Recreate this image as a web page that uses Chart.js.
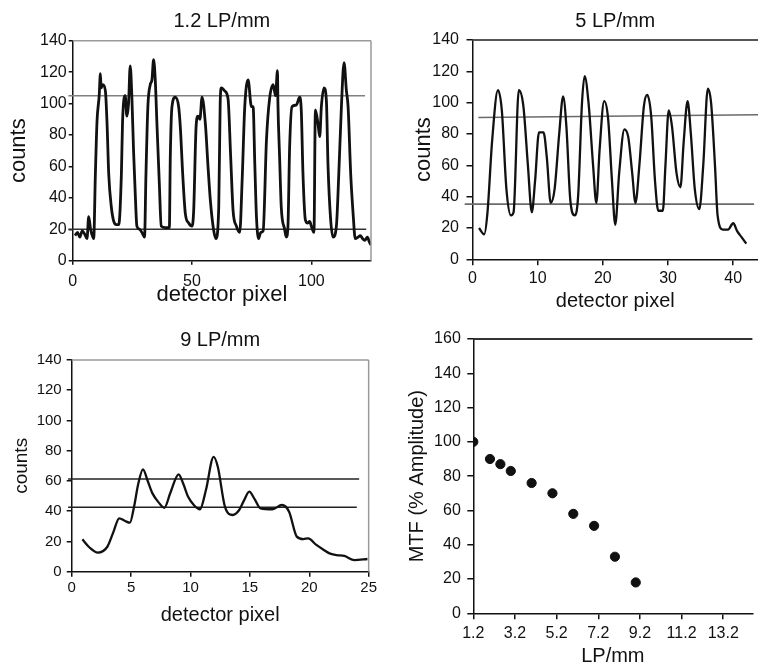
<!DOCTYPE html>
<html>
<head>
<meta charset="utf-8">
<title>Line pair profiles and MTF</title>
<script src="https://cdn.jsdelivr.net/npm/chart.js@4.4.1/dist/chart.umd.min.js"></script>
<style>
  body { margin: 0; background: #fff; overflow: hidden; }
  #wrap { position: relative; width: 758px; height: 671px; overflow: hidden; }
  .panel { position: absolute; }
</style>
</head>
<body>
<div id="wrap">
  <div class="panel" style="left:0;top:0;width:379px;height:320px"><canvas id="lp12"></canvas></div>
  <div class="panel" style="left:379px;top:0;width:379px;height:320px"><canvas id="lp5"></canvas></div>
  <div class="panel" style="left:0;top:320px;width:379px;height:351px"><canvas id="lp9"></canvas></div>
  <div class="panel" style="left:379px;top:320px;width:379px;height:351px"><canvas id="mtf"></canvas></div>
</div>
<script>
// ---------- data ----------

// 1.2 LP/mm profile
const p1Pixel = [
  1, 2, 3, 4, 5, 6, 6.7, 7.5, 8.8, 9.5, 10.2, 11.1, 11.6, 11.9, 12.6, 13.7,
  14.4, 15.1, 16.2, 17.2, 18.3, 19.3, 20.4, 20.9, 22, 22.7, 23.4, 24.1, 24.8,
  25.5, 26.2, 26.9, 28, 29, 30.1, 30.7, 31.5, 32.5, 33.2, 33.9, 34.6, 35.3,
  36.3, 37.1, 38.8, 40.5, 40.9, 41.6, 43, 44.4, 45.1, 46.1, 47.2, 48.6, 50,
  50.7, 51.7, 52.5, 53.3, 54.2, 55.6, 56.7, 57.7, 59, 60, 61.2, 61.8, 62.3,
  63.7, 65.1, 66.2, 67.2, 68.6, 70, 71, 72.1, 73.5, 74.9, 75.6, 76.3, 77,
  77.9, 78.8, 79.8, 81.2, 82.5, 84, 85, 85.8, 86, 86.7, 87.4, 88.8, 89.5,
  90.2, 90.9, 91.9, 93.7, 95.1, 95.8, 96.5, 97.5, 98.5, 99.3, 100, 101.1,
  101.7, 102.8, 103.5, 104.2, 105.3, 106.3, 107, 108.1, 109.1, 110.5, 111.5,
  112.6, 113.7, 114.7, 115.4, 116.5, 117.5, 118.4, 119.6, 120.5, 121.5,
  122.4, 123.5, 124.3, 125
];
const p1Counts = [
  16, 18, 15, 19, 17, 14, 28, 20, 14, 55, 89, 105, 119, 110, 112, 108,
  87, 55, 34, 25, 23, 23, 55, 89, 105, 92, 100, 124, 104,
  70, 43, 22, 20, 18, 15, 55, 98, 112, 115, 128, 115, 87,
  49, 22, 21, 21, 66, 98, 104, 98, 85, 55, 30, 24, 22,
  32, 85, 92, 90, 104, 87, 60, 38, 20, 14, 34, 100, 110,
  108, 103, 66, 32, 22, 18, 51, 98, 115, 98, 98, 62, 28,
  14, 18, 19, 77, 103, 112, 105, 121, 100, 66, 34, 20, 15,
  22, 72, 98, 99, 104, 95, 55, 26, 24, 25, 22, 18,
  96, 87, 79, 98, 110, 102, 60, 26, 15, 22, 55,
  98, 126, 108, 98, 55, 30, 14, 15, 16, 14,
  13, 15, 12, 10
];
const p1Levels = [105, 20];
const p1LevelFrom = [-1.8, -1.8];
const p1LevelTo = [122.5, 123];

// 5 LP/mm profile
const p2Pixel = [
  1, 1.8, 2.3, 3, 3.9, 4.5, 5.2, 5.9, 6.3, 7.1, 7.8, 8.5, 9.1, 9.6, 10.2, 10.9,
  11.4, 12, 12.6, 13.3, 13.9, 14.4, 15, 15.7, 16.2, 16.8, 17.2, 17.8, 18.5, 19,
  19.5, 20.2, 20.8, 21.4, 21.9, 22.5, 23.3, 23.9, 24.5, 25, 25.6, 26.3, 26.8,
  27.4, 28, 28.5, 29.2, 29.6, 30.1, 30.6, 31.3, 31.9, 32.4, 33, 33.5, 34.1,
  34.8, 35.4, 36.1, 36.6, 37.2, 37.6, 38.4, 39.2, 40, 40.6, 41.3, 42
];
const p2Counts = [
  20, 16, 30, 75, 108, 95, 45, 28, 30, 108, 98, 60, 30, 50, 81, 81,
  65, 36, 45, 80, 104, 85, 38, 28, 40, 100, 117, 100, 60, 36,
  70, 101, 90, 50, 22, 55, 83, 78, 55, 36, 60, 98, 105,
  92, 50, 31, 31, 60, 95, 85, 55, 46, 75, 101, 80, 45,
  32, 60, 109, 100, 60, 28, 19, 19, 23, 18, 14, 10
];
const p2Levels = [[90.5, 92.3], [35.2, 35.2]];
const p2LevelFrom = [0.9, -1.2];
const p2LevelTo = [43.8, 43.2];

// 9 LP/mm profile
const p3Pixel = [
  0.9, 1.5, 2.2, 3, 3.5, 4, 4.5, 4.9, 5.25, 5.6, 6, 6.4, 6.8, 7.3, 7.8, 8.3,
  9, 9.4, 9.8, 10.3, 10.8, 11.3, 11.95, 12.3, 12.9, 13.55, 14.1, 14.5, 14.95,
  15.4, 15.9, 16.9, 17.7, 18.3, 18.95, 19.5, 19.9, 20.6, 21.2, 21.7, 22.3,
  22.95, 23.8, 24.9
];
const p3Counts = [
  21.4, 16, 12.6, 16.5, 26, 35.3, 33.5, 32.4, 43, 58, 67.7, 60, 51.8, 46, 42.3, 52,
  64.4, 58, 49.6, 44, 41.3, 54, 76, 69.4, 43, 37.5, 40.8, 47, 52.9,
  48, 41.9, 41.3, 44.1, 39.7, 23.2, 21.6, 22, 17.7, 14.5, 12.1, 11,
  10.4, 7.7, 8.4
];
const p3Levels = [61.3, 42.6];
const p3LevelFrom = [-0.3, -0.3];
const p3LevelTo = [24.2, 24];

// MTF vs spatial frequency
const mtfLp = [1.2, 2, 2.5, 3, 4, 5, 6, 7, 8, 9];
const mtfAmp = [100, 90, 87, 83, 76, 70, 58, 51, 33, 18];

// tick labels
const p1XTicks = [0, 50, 100];
const p2XTicks = [0, 10, 20, 30, 40];
const p3XTicks = [0, 5, 10, 15, 20, 25];
const countTicks = [0, 20, 40, 60, 80, 100, 120, 140];
const mtfXTicks = [1.2, 3.2, 5.2, 7.2, 9.2, 11.2, 13.2];
const mtfYTicks = [0, 20, 40, 60, 80, 100, 120, 140, 160];

// ---------- helpers ----------

const FONT = "'Liberation Sans', Arial, sans-serif";
const INK = '#111';
Chart.defaults.font.family = FONT;
Chart.defaults.color = INK;

// top / right frame lines around the plot area
const frame = {
  id: 'frame',
  afterDraw(chart, args, opts) {
    const { ctx, chartArea: a } = chart;
    ctx.save();
    ctx.lineWidth = opts.width || 1.5;
    if (opts.top) {
      ctx.strokeStyle = opts.top;
      ctx.beginPath(); ctx.moveTo(a.left, a.top); ctx.lineTo(a.right, a.top); ctx.stroke();
    }
    if (opts.right) {
      ctx.strokeStyle = opts.right;
      ctx.beginPath(); ctx.moveTo(a.right, a.top); ctx.lineTo(a.right, a.bottom); ctx.stroke();
    }
    ctx.restore();
  }
};

function axis(o) {
  return {
    type: 'linear',
    min: o.min,
    max: o.max,
    afterFit: s => { if (s.isHorizontal()) s.height = o.size; else s.width = o.size; },
    afterBuildTicks: s => { s.ticks = o.ticks.map(v => ({ value: v })); },
    grid: { drawOnChartArea: false, drawTicks: true, tickLength: o.tickLen, color: INK, lineWidth: 1.5 },
    border: { display: true, color: INK, width: 1.5 },
    ticks: {
      color: INK, padding: o.pad, autoSkip: false, maxRotation: 0,
      font: { size: o.tickSize || 16 },
      callback: v => String(v)
    },
    title: {
      display: true, text: o.title, color: INK,
      font: { size: o.titleSize },
      padding: o.titlePad
    }
  };
}

function levelSets(levels, from, to, colors) {
  return levels.map((lv, i) => {
    const ys = Array.isArray(lv) ? lv : [lv, lv];
    return {
      data: [{ x: from[i], y: ys[0] }, { x: to[i], y: ys[1] }],
      borderColor: colors[i],
      borderWidth: 1.6,
      pointRadius: 0,
      clip: false
    };
  });
}

function profile(id, o) {
  return new Chart(document.getElementById(id), {
    type: 'line',
    data: {
      datasets: [
        {
          data: o.x.map((x, i) => ({ x, y: o.y[i] })),
          borderColor: INK,
          borderWidth: o.lineWidth || 2.3,
          pointRadius: 0,
          cubicInterpolationMode: 'monotone'
        },
        ...o.levels
      ]
    },
    options: {
      animation: false,
      responsive: true,
      maintainAspectRatio: false,
      layout: { padding: o.padding },
      plugins: {
        legend: { display: false },
        tooltip: { enabled: false },
        title: {
          display: true, text: o.title, color: INK, fullSize: false,
          font: { size: 20, weight: 'normal' },
          padding: o.titlePad
        },
        frame: o.frame
      },
      scales: { x: o.xAxis, y: o.yAxis }
    },
    plugins: [frame]
  });
}

// ---------- charts ----------

profile('lp12', {
  title: '1.2 LP/mm',
  lineWidth: 2.8,
  titlePad: { top: 9.7, bottom: 7 },
  padding: { left: 0, right: 8, top: 0, bottom: 11.8 },
  x: p1Pixel,
  y: p1Counts,
  levels: levelSets(p1Levels, p1LevelFrom, p1LevelTo, ['#808080', '#333']),
  frame: { top: '#999', right: '#999', width: 1.5 },
  xAxis: axis({ min: 0, max: 125, ticks: p1XTicks, size: 47.5, tickLen: 4, pad: 7.4,
    title: 'detector pixel', titleSize: 22, titlePad: { top: 0, bottom: 0 } }),
  yAxis: axis({ min: 0, max: 140, ticks: countTicks, size: 72.7, tickLen: 4, pad: 2,
    title: 'counts', titleSize: 22, titlePad: { top: 5.3, bottom: 0 } })
});

profile('lp5', {
  title: '5 LP/mm',
  titlePad: { top: 9, bottom: 7 },
  padding: { left: 0, right: 0, top: 0, bottom: 6.3 },
  x: p2Pixel,
  y: p2Counts,
  levels: levelSets(p2Levels, p2LevelFrom, p2LevelTo, ['#6a6a6a', '#6a6a6a']),
  frame: { top: '#555', width: 2 },
  xAxis: axis({ min: 0, max: 43.8, ticks: p2XTicks, size: 54.4, tickLen: 6, pad: 3.4,
    title: 'detector pixel', titleSize: 20, titlePad: { top: 0, bottom: 0 } }),
  yAxis: axis({ min: 0, max: 140, ticks: countTicks, size: 93.5, tickLen: 6, pad: 7.5,
    title: 'counts', titleSize: 22, titlePad: { top: 31.8, bottom: 0 } })
});

profile('lp9', {
  title: '9 LP/mm',
  titlePad: { top: 8.7, bottom: 7.3 },
  padding: { left: 0, right: 6.7, top: 0, bottom: 44 },
  x: p3Pixel,
  y: p3Counts,
  levels: levelSets(p3Levels, p3LevelFrom, p3LevelTo, ['#222', '#222']),
  frame: { top: '#999', right: '#999', width: 1.5 },
  xAxis: axis({ min: 0, max: 25, ticks: p3XTicks, size: 55.3, tickLen: 5, pad: 2, tickSize: 15,
    title: 'detector pixel', titleSize: 20, titlePad: { top: 0, bottom: 0 } }),
  yAxis: axis({ min: 0, max: 140, ticks: countTicks, size: 71.7, tickLen: 5, pad: 5, tickSize: 15,
    title: 'counts', titleSize: 19, titlePad: { top: 10.3, bottom: 0 } })
});

new Chart(document.getElementById('mtf'), {
  type: 'scatter',
  data: {
    datasets: [{
      data: mtfLp.map((x, i) => ({ x, y: mtfAmp[i] })),
      backgroundColor: INK,
      borderColor: INK,
      pointRadius: 4.6,
      pointHoverRadius: 4.6
    }]
  },
  options: {
    animation: false,
    responsive: true,
    maintainAspectRatio: false,
    layout: { padding: { left: 0, right: 0, top: 19, bottom: 2.3 } },
    plugins: {
      legend: { display: false },
      tooltip: { enabled: false },
      frame: { top: '#333', width: 1.8 }
    },
    scales: {
      x: axis({ min: 1.2, max: 14.6, ticks: mtfXTicks, size: 55.4, tickLen: 6, pad: 4.4,
        title: 'LP/mm', titleSize: 20, titlePad: { top: 0, bottom: 0 } }),
      y: axis({ min: 0, max: 160, ticks: mtfYTicks, size: 94.3, tickLen: 6, pad: 6.5,
        title: 'MTF (% Amplitude)', titleSize: 20, titlePad: { top: 26.3, bottom: 0 } })
    }
  },
  plugins: [frame]
});
</script>
</body>
</html>
